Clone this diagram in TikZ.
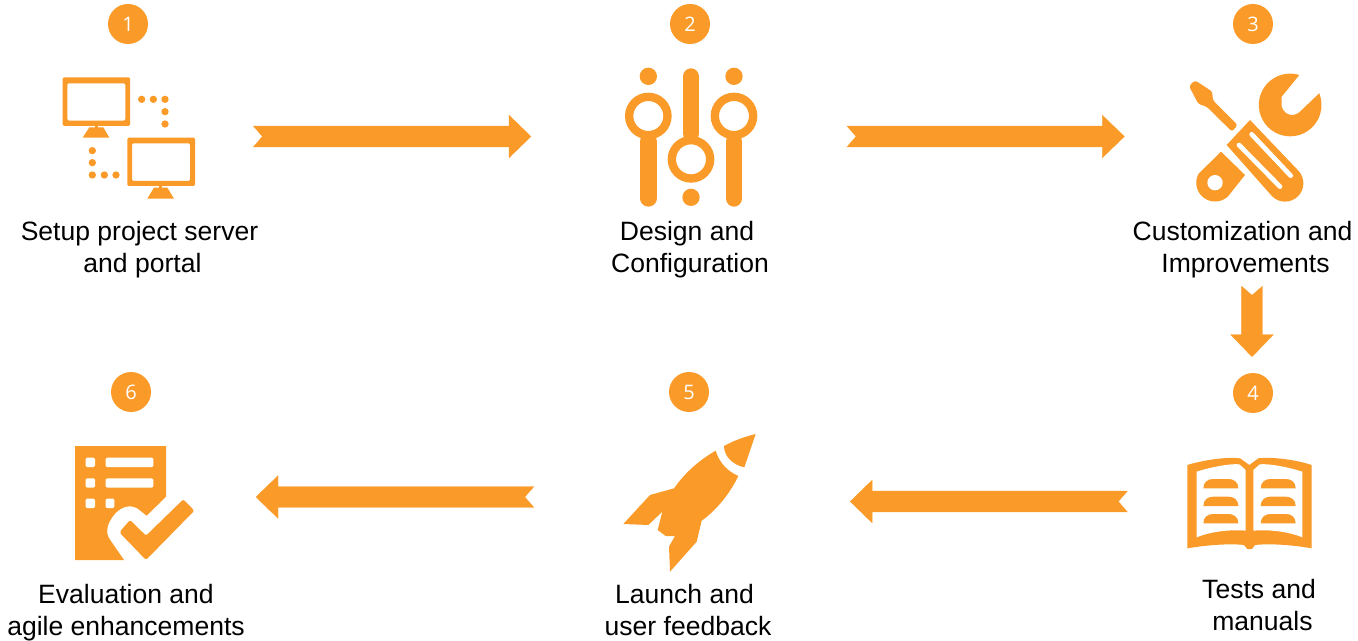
\documentclass[tikz,border=0pt]{standalone}
\usepackage{fontspec}
\setmainfont{Liberation Sans}
\newfontfamily\digitfont{Open Sans}
\usetikzlibrary{calc}

\definecolor{iconorange}{HTML}{FA9A28}

\tikzset{
    step number/.style={circle, fill=iconorange, text=white, minimum size=30pt, inner sep=0pt,
        font=\digitfont\fontsize{15}{18}\selectfont},
    step label/.style={align=center, inner sep=0pt, font=\fontsize{19.9}{24}\selectfont},
    icon box/.style={minimum width=#1, minimum height=60pt, inner sep=0pt, outer sep=0pt},
    flow arrow/.style={draw=iconorange, fill=iconorange, line width=0.2pt, to path={
        ($(\tikztostart)!7.8pt!90:(\tikztotarget)$)
        -- ($(\tikztotarget)!16.5pt!(\tikztostart)!7.8pt!90:(\tikztotarget)$)
        -- ($(\tikztotarget)!16.5pt!(\tikztostart)!16pt!90:(\tikztotarget)$)
        -- (\tikztotarget)
        -- ($(\tikztotarget)!16.5pt!(\tikztostart)!16pt!-90:(\tikztotarget)$)
        -- ($(\tikztotarget)!16.5pt!(\tikztostart)!7.8pt!-90:(\tikztotarget)$)
        -- ($(\tikztostart)!7.8pt!-90:(\tikztotarget)$)
        -- ($(\tikztostart)!6.75pt!(\tikztotarget)$) -- cycle
    }},
}

\begin{document}
\begin{tikzpicture}[x=0.75pt, y=-0.75pt]
    \useasboundingbox (0,0) rectangle (1358,641);

    \foreach \i/\x/\y in {1/128/24, 2/690/24, 3/1253/24, 4/1253/393, 5/689/392, 6/131/392}
        \node[step number] (num \i) at (\x,\y) {\i};

    \node[step label] (label 1) at (139.5,250) {Setup project server\\\hspace*{4.5pt}and portal};
    \node[step label] (label 2) at (690,250) {\hspace*{-4.5pt}Design and\\Configuration};
    \node[step label] (label 3) at (1242.5,250) {Customization and\\\hspace*{4.5pt}Improvements};
    \node[step label] (label 4) at (1260.5,605) {\hspace*{-2.25pt}Tests and\\\hspace*{3pt}manuals};
    \node[step label] (label 5) at (687,610) {\hspace*{-3.75pt}Launch and\\\hspace*{1.5pt}user feedback};
    \node[step label] (label 6) at (126,613) {Evaluation and\\agile enhancements};

    \node[icon box=100pt] (icon 1) at (128.7,136.5) {};
    \node[icon box=99pt] (icon 2) at (691,136.5) {};
    \node[icon box=100pt] (icon 3) at (1255,136.5) {};
    \node[icon box=94pt] (icon 4) at (1250,501.5) {};
    \node[icon box=100pt] (icon 5) at (689.5,501.5) {};
    \node[icon box=90pt] (icon 6) at (135,497) {};

    \draw[flow arrow] ([xshift=43.5pt]icon 1.east) to ([xshift=-70.5pt]icon 2.west);
    \draw[flow arrow] ([xshift=67.5pt]icon 2.east) to ([xshift=-48pt]icon 3.west);
    \draw[flow arrow] ([shift={(-.75pt,-181.5pt)}]num 3.south) to ([shift={(-.75pt,12pt)}]num 4.north);
    \draw[flow arrow] ([xshift=-45pt]icon 4.west) to ([xshift=70.5pt]icon 5.east);
    \draw[flow arrow] ([shift={(-66.75pt,3.375pt)}]icon 5.west) to ([xshift=45.75pt]icon 6.east);

    % computers
    \begin{scope}[shift={(40,0)}, scale=1/3]
        \fill[iconorange, rounded corners=1pt, even odd rule] (68,232) rectangle (270,378) (82,250) rectangle (256,362);
        \fill[iconorange, rounded corners=1pt, even odd rule] (262,413) rectangle (465,558) (276,430) rectangle (450,543);
        \fill[iconorange] (164,378) rectangle (173,384);
        \fill[iconorange] (358,558) rectangle (367,564);
        \fill[iconorange] (148,382) -- (190,382) -- (208,413) -- (128,413) -- cycle;
        \fill[iconorange] (342,563) -- (382,563) -- (402,596) -- (322,596) -- cycle;
        \foreach \x/\y in {305/298, 340/298, 375/298, 375/335, 375/372,
            157/452, 157/488, 157/525, 193/525, 228/525}
            \fill[iconorange] (\x,\y) circle[radius=11];
    \end{scope}

    % sliders
    \begin{scope}[shift={(600,0)}, scale=1/3]
        \foreach \x in {145,402} {
            \fill[iconorange] (\x,229) circle[radius=26];
            \draw[iconorange, line width=12.5pt, line cap=round] (\x,425) -- (\x,595);
            \draw[iconorange, line width=6.25pt] (\x,348) circle[radius=57.5];
        }
        \draw[iconorange, line width=12.5pt, line cap=round] (273,230) -- (273,400);
        \draw[iconorange, line width=6.25pt] (273,478) circle[radius=57.5];
        \fill[iconorange] (273,592) circle[radius=26];
    \end{scope}

    % tools
    \begin{scope}[shift={(1170,0)}, scale=1/3]
        \fill[iconorange] (388,225) arc[start angle=-73, end angle=-382, radius=94]
            -- (390,335) .. controls (375,350) and (345,350) .. (335,320) -- (335,290) -- cycle;
        \fill[iconorange, rounded corners=2pt] (57,258) -- (75,241) -- (127,275) -- (128,300) -- (203,375)
            -- (186,395) -- (110,320) -- (85,312) -- cycle;
        \fill[iconorange] (170,435) -- (240,360) -- (384,511)
            arc[start angle=-45, end angle=135, radius=55] -- cycle;
        \draw[white, line width=3.5pt, line cap=round] (245,403) -- (362,527);
        \draw[white, line width=3.5pt, line cap=round] (207,435) -- (330,560);
        \fill[iconorange] (153,455) -- (85,522) arc[start angle=207.5, end angle=46, radius=56.5]
            -- (225,525) -- cycle;
        \fill[white] (135,548) circle[radius=23];
    \end{scope}

    % book
    \begin{scope}[shift={(1170,280)}, scale=1/3]
        \fill[iconorange] (52,555) .. controls (100,540) and (170,530) .. (210,535) -- (238,555) -- (265,535)
            .. controls (310,530) and (380,540) .. (425,555) -- (425,805)
            .. controls (370,795) and (300,790) .. (255,795) -- (246,807) -- (232,807) -- (222,795)
            .. controls (180,790) and (110,795) .. (52,805) -- cycle;
        \fill[white] (80,575) .. controls (120,562) and (180,550) .. (208,553) -- (227,570) -- (227,752)
            .. controls (180,748) and (120,755) .. (80,772) -- cycle;
        \fill[white] (397,575) .. controls (357,562) and (297,550) .. (269,553) -- (250,570) -- (250,752)
            .. controls (297,748) and (357,755) .. (397,772) -- cycle;
        \foreach \x in {100,272}
            \foreach \y in {597,650,702}
                \fill[iconorange] (\x,\y+28) .. controls (\x,\y+8) and (\x+15,\y) .. (\x+30,\y) -- (\x+75,\y)
                    .. controls (\x+90,\y) and (\x+105,\y+8) .. (\x+105,\y+28) -- cycle;
    \end{scope}

    % rocket
    \begin{scope}[shift={(600,370)}, scale=1/3]
        \fill[iconorange] (347,242) .. controls (290,275) and (250,315) .. (222,355) -- (150,375) -- (70,462)
            -- (145,465) -- (187,425) -- (173,480) -- (197,498) -- (225,498) -- (207,530) -- (210,605)
            -- (290,515) -- (305,452) .. controls (350,420) and (390,370) .. (415,318)
            .. controls (385,305) and (358,280) .. (347,242) -- cycle;
        \fill[iconorange] (372,228) .. controls (400,212) and (435,200) .. (467,192) -- (433,292)
            .. controls (400,285) and (372,260) .. (372,228) -- cycle;
    \end{scope}

    % checklist
    \begin{scope}[shift={(50,370)}, scale=1/3]
        \fill[iconorange] (75,228) -- (348,228) -- (348,380) -- (290,437) -- (262,415)
            .. controls (235,400) and (205,415) .. (188,440) .. controls (170,465) and (165,490) .. (182,512)
            -- (222,570) -- (75,570) -- cycle;
        \foreach \y in {263,325,386}
            \fill[white, rounded corners=1pt] (107,\y) rectangle (135,\y+28);
        \fill[white, rounded corners=1pt] (167,386) rectangle (193,414);
        \foreach \y in {263,325}
            \fill[white, rounded corners=1pt] (167,\y) rectangle (310,\y+28);
        \fill[iconorange, rounded corners=1.5pt] (208,487) -- (240,450) -- (288,497) -- (400,388) -- (433,422)
            -- (288,570) -- cycle;
    \end{scope}
\end{tikzpicture}
\end{document}
